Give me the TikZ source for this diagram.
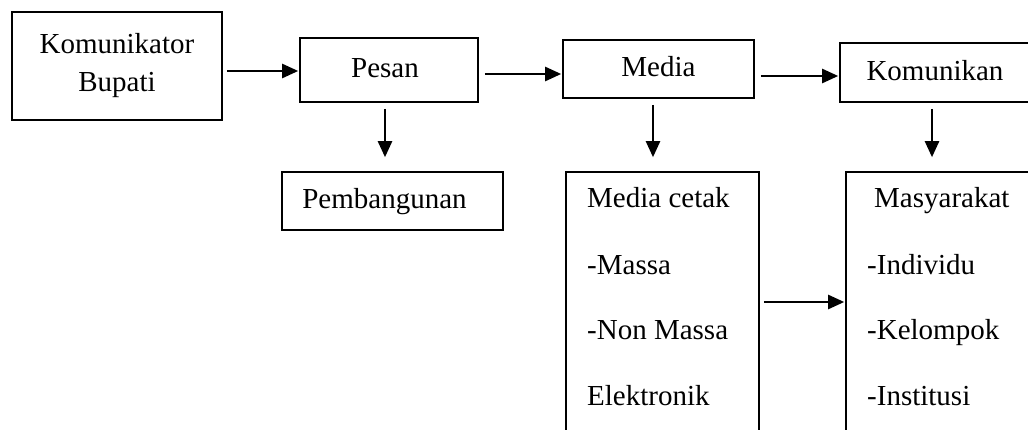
\documentclass[tikz,border=0pt]{standalone}
\usepackage{fontspec}
\setmainfont{Liberation Serif}
\usetikzlibrary{arrows.meta}
\begin{document}
\begin{tikzpicture}[x=1pt,y=-1pt,
  box/.style={draw,line width=1.6pt,inner sep=0pt,text height=22pt,text depth=6pt},
  arr/.style={line width=2.4pt,-{Triangle[length=16pt,width=14pt]}},
  item/.style={anchor=base west,inner sep=0pt},
  every node/.style={font=\fontsize{29}{38}\selectfont}]
\clip (0,0) rectangle (1028,430);
\fill[white] (0,0) rectangle (1028,430);

% top row
\node[draw,line width=1.6pt,inner sep=0pt,align=center,minimum width=210pt,minimum height=108pt]
  (komu) at (117,66) {\raisebox{-3pt}{\parbox{200pt}{\centering Komunikator\\Bupati}}};
\node[box,minimum width=178pt,minimum height=64pt] (pesan) at (389,70) {\hspace*{-8pt}Pesan};
\node[box,minimum width=191pt,minimum height=58pt] (media) at (658.5,69) {Media};
\node[box,minimum width=190pt,minimum height=59pt] (kom) at (935,72.5) {Komunikan};

% second row
\node[box,minimum width=221pt,minimum height=58pt] (pemb) at (392.5,201) {\hspace*{-16pt}Pembangunan};
\node[draw,line width=1.6pt,minimum width=193pt,minimum height=268pt,inner sep=0pt] (cetak) at (662.5,306) {};
\node[draw,line width=1.6pt,minimum width=194pt,minimum height=268pt,inner sep=0pt] (masy) at (943,306) {};

% entries of the tall boxes
\node[item] (c1) at (587,208) {Media cetak};
\node[item] (c2) at (587,275) {-Massa};
\node[item] (c3) at (587,339) {-Non Massa};
\node[item] (c4) at (587,405) {Elektronik};
\node[item] (m1) at (874,208) {Masyarakat};
\node[item] (m2) at (867,275) {-Individu};
\node[item] (m3) at (867,339) {-Kelompok};
\node[item] (m4) at (867,405) {-Institusi};

% horizontal connectors
\draw[arr] ([xshift=4pt]komu.east |- 0,71) -- ([xshift=-1pt]pesan.west |- 0,71);
\draw[arr] ([xshift=6pt]pesan.east |- 0,74) -- ([xshift=-1pt]media.west |- 0,74);
\draw[arr] ([xshift=6pt]media.east |- 0,76) -- ([xshift=-1pt]kom.west |- 0,76);
\draw[arr] ([xshift=4pt]cetak.east |- 0,302) -- ([xshift=-1pt]masy.west |- 0,302);

% vertical connectors
\draw[arr] ([yshift=-6pt]pesan.south -| 385,0) -- ([yshift=14pt]pemb.north -| 385,0);
\draw[arr] ([yshift=-6pt]media.south -| 653,0) -- ([yshift=14pt]cetak.north -| 653,0);
\draw[arr] ([yshift=-6pt]kom.south -| 932,0) -- ([yshift=14pt]masy.north -| 932,0);
\end{tikzpicture}
\end{document}
